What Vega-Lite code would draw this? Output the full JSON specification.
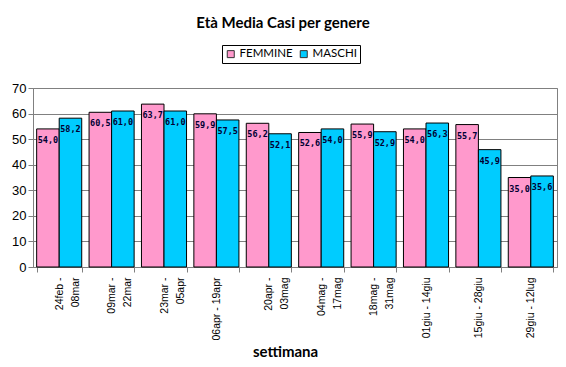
{
  "$schema": "https://vega.github.io/schema/vega-lite/v6.json",
  "width": 524,
  "height": 179,
  "autosize": {"type": "none"},
  "padding": {"left": 33, "top": 88, "right": 9, "bottom": 100},
  "background": "white",
  "title": {"text": "Età Media Casi per genere", "font": "Lato", "fontSize": 15, "fontWeight": "bold", "color": "#000000", "anchor": "middle", "frame": "group", "dx": -12, "offset": 14},
  "data": {"values": [
    {"settimana": "24feb -|08mar", "genere": "FEMMINE", "eta": 54.0},
    {"settimana": "24feb -|08mar", "genere": "MASCHI", "eta": 58.2},
    {"settimana": "09mar -|22mar", "genere": "FEMMINE", "eta": 60.5},
    {"settimana": "09mar -|22mar", "genere": "MASCHI", "eta": 61.0},
    {"settimana": "23mar -|05apr", "genere": "FEMMINE", "eta": 63.7},
    {"settimana": "23mar -|05apr", "genere": "MASCHI", "eta": 61.0},
    {"settimana": "06apr - 19apr", "genere": "FEMMINE", "eta": 59.9},
    {"settimana": "06apr - 19apr", "genere": "MASCHI", "eta": 57.5},
    {"settimana": "20apr -|03mag", "genere": "FEMMINE", "eta": 56.2},
    {"settimana": "20apr -|03mag", "genere": "MASCHI", "eta": 52.1},
    {"settimana": "04mag -|17mag", "genere": "FEMMINE", "eta": 52.6},
    {"settimana": "04mag -|17mag", "genere": "MASCHI", "eta": 54.0},
    {"settimana": "18mag -|31mag", "genere": "FEMMINE", "eta": 55.9},
    {"settimana": "18mag -|31mag", "genere": "MASCHI", "eta": 52.9},
    {"settimana": "01giu - 14giu", "genere": "FEMMINE", "eta": 54.0},
    {"settimana": "01giu - 14giu", "genere": "MASCHI", "eta": 56.3},
    {"settimana": "15giu - 28giu", "genere": "FEMMINE", "eta": 55.7},
    {"settimana": "15giu - 28giu", "genere": "MASCHI", "eta": 45.9},
    {"settimana": "29giu - 12lug", "genere": "FEMMINE", "eta": 35.0},
    {"settimana": "29giu - 12lug", "genere": "MASCHI", "eta": 35.6}
  ]},
  "encoding": {
    "x": {
      "field": "settimana", "type": "nominal", "sort": null,
      "scale": {"paddingInner": 0.14, "paddingOuter": 0.07},
      "axis": {
        "title": "settimana", "titleFont": "Lato", "titleFontSize": 15, "titleFontWeight": "bold", "titleColor": "#000000",
        "titleX": 252, "titleY": 84, "titleAlign": "center", "titleBaseline": "middle",
        "labelExpr": "split(datum.label, '|')", "labelAngle": -90, "labelFont": "Liberation Sans", "labelFontSize": 10.5, "labelColor": "#000000", "labelPadding": 5, "labelLineHeight": 16,
        "tickBand": "extent", "tickSize": 5, "tickColor": "#808080", "domainColor": "#808080", "grid": false
      }
    },
    "xOffset": {"field": "genere", "sort": ["FEMMINE", "MASCHI"]},
    "y": {
      "field": "eta", "type": "quantitative",
      "scale": {"domain": [0, 70]},
      "axis": {
        "title": null, "values": [0, 10, 20, 30, 40, 50, 60, 70],
        "labelFont": "Liberation Sans", "labelFontSize": 13, "labelColor": "#000000", "labelPadding": 2,
        "tickSize": 5, "tickColor": "#808080", "domainColor": "#808080",
        "grid": true, "gridColor": "#808080", "gridWidth": 1
      }
    }
  },
  "layer": [
    {
      "mark": {"type": "bar", "stroke": "#000000", "strokeWidth": 1},
      "encoding": {
        "color": {
          "field": "genere", "type": "nominal",
          "scale": {"domain": ["FEMMINE", "MASCHI"], "range": ["#FF99CC", "#00CCFF"]},
          "legend": {
            "title": null, "orient": "none", "legendX": 189, "legendY": -43, "direction": "horizontal",
            "symbolType": "square", "symbolSize": 49, "symbolStrokeColor": "#333333", "symbolStrokeWidth": 1, "symbolOpacity": 1,
            "labelFont": "Lato", "labelFontSize": 11.5, "labelColor": "#000000", "labelOffset": 3,
            "strokeColor": "#000000", "fillColor": "#ffffff", "padding": 3, "columnPadding": 5
          }
        }
      }
    },
    {
      "mark": {"type": "text", "baseline": "top", "dy": 7, "font": "DejaVu Sans Mono", "fontWeight": "bold", "fontSize": 8.5, "color": "#000033"},
      "encoding": {"text": {"field": "eta", "type": "quantitative", "format": ".1f"}}
    }
  ],
  "config": {
    "locale": {"number": {"decimal": ",", "thousands": ".", "grouping": [3], "currency": ["", " €"]}},
    "view": {"stroke": "#808080"}
  }
}
